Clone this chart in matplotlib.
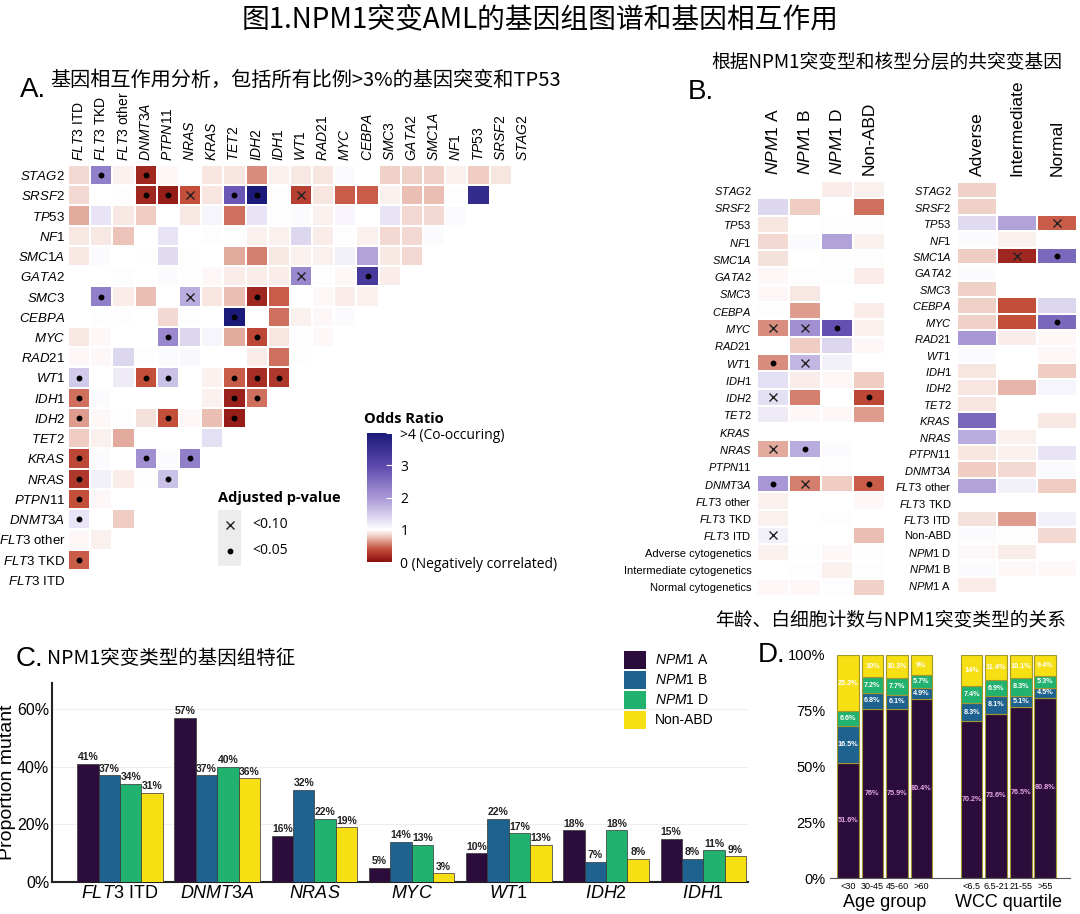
import numpy as np
import matplotlib
matplotlib.use('Agg')
import matplotlib.pyplot as plt
from matplotlib.colors import LinearSegmentedColormap, Normalize
from matplotlib.cm import ScalarMappable
from matplotlib.patches import Patch

plt.rcParams['font.family'] = ['Liberation Sans', 'DejaVu Sans']
plt.rcParams['mathtext.fontset'] = 'custom'
plt.rcParams['mathtext.it'] = 'Liberation Sans:italic'
plt.rcParams['mathtext.rm'] = 'Liberation Sans'
plt.rcParams['mathtext.bf'] = 'Liberation Sans:bold'
CJK = ['Noto Sans CJK SC', 'DejaVu Sans']
SANS = ['Open Sans', 'DejaVu Sans']

# ---------------- data ----------------
# panel A: genes bottom->top (rows) and left->right (columns)
genes_a = ['FLT3 ITD', 'FLT3 TKD', 'FLT3 other', 'DNMT3A', 'PTPN11', 'NRAS', 'KRAS',
           'TET2', 'IDH2', 'IDH1', 'WT1', 'RAD21', 'MYC', 'CEBPA', 'SMC3', 'GATA2',
           'SMC1A', 'NF1', 'TP53', 'SRSF2', 'STAG2']

# odds ratios, rows from top (STAG2) to bottom (FLT3 ITD)
odds_a = [
    [0.85, 2.3, 0.95, 0.15, 0.97, 1.0, 0.9, 0.9, 0.6, 0.95, 0.92, 0.9, 1.05, 1.0, 0.82, 0.82, 0.82, 0.95, 0.8, 0.9],
    [0.85, 1.0, 1.03, 0.15, 0.08, 0.4, 0.9, 2.8, 4.2, 1.03, 0.3, 0.9, 0.45, 0.45, 0.95, 0.75, 0.75, 1.03, 3.6],
    [0.7, 1.25, 0.92, 0.8, 1.0, 0.92, 1.1, 0.5, 1.25, 1.03, 1.05, 0.95, 1.08, 1.0, 1.25, 0.85, 0.85, 1.05],
    [0.92, 0.92, 0.78, 1.0, 1.25, 1.0, 1.03, 1.03, 0.95, 0.95, 1.4, 0.93, 1.02, 0.95, 0.85, 0.85, 1.05],
    [0.92, 1.05, 1.0, 1.03, 1.35, 1.03, 1.0, 0.7, 0.55, 0.92, 0.95, 0.95, 1.15, 1.9, 0.92, 0.85],
    [1.0, 1.0, 1.02, 1.0, 1.05, 1.02, 0.97, 0.93, 0.93, 0.93, 2.2, 1.02, 0.97, 3.3, 0.93],
    [1.0, 2.3, 0.93, 0.75, 1.0, 1.8, 0.9, 0.75, 0.15, 0.45, 1.0, 0.97, 0.93, 0.95],
    [1.0, 1.03, 1.02, 1.0, 0.85, 1.02, 1.0, 4.2, 1.0, 0.5, 0.95, 0.98, 1.05],
    [0.92, 0.97, 1.0, 1.0, 2.2, 1.4, 1.1, 0.7, 0.35, 0.9, 1.02, 0.98],
    [0.97, 0.97, 1.4, 1.02, 1.05, 1.07, 1.0, 1.0, 0.93, 0.5, 1.03],
    [1.5, 1.0, 1.2, 0.4, 1.6, 1.0, 0.95, 0.45, 0.2, 0.25],
    [0.5, 1.05, 1.0, 1.0, 1.0, 1.0, 0.95, 0.12, 0.5],
    [0.65, 0.97, 1.03, 0.88, 0.4, 0.97, 0.75, 0.08],
    [0.8, 0.95, 0.7, 1.0, 1.0, 1.0, 1.3],
    [0.35, 1.05, 1.0, 2.1, 1.05, 2.3],
    [0.25, 1.15, 0.93, 1.03, 1.6],
    [0.4, 0.97, 1.0, 1.0],
    [1.25, 1.0, 0.8],
    [0.97, 0.95],
    [0.45],
    [],
]

# adjusted p-value marks: (row gene, column gene, 'o' = <0.05, 'x' = <0.10)
sig_a = [('STAG2', 'FLT3 TKD', 'o'), ('STAG2', 'DNMT3A', 'o'),
         ('SRSF2', 'DNMT3A', 'o'), ('SRSF2', 'PTPN11', 'o'), ('SRSF2', 'NRAS', 'x'),
         ('SRSF2', 'TET2', 'o'), ('SRSF2', 'IDH2', 'o'), ('SRSF2', 'WT1', 'x'),
         ('GATA2', 'WT1', 'x'), ('GATA2', 'CEBPA', 'o'),
         ('SMC3', 'FLT3 TKD', 'o'), ('SMC3', 'NRAS', 'x'), ('SMC3', 'IDH2', 'o'),
         ('CEBPA', 'TET2', 'o'), ('MYC', 'PTPN11', 'o'), ('MYC', 'IDH2', 'o'),
         ('WT1', 'FLT3 ITD', 'o'), ('WT1', 'DNMT3A', 'o'), ('WT1', 'PTPN11', 'o'),
         ('WT1', 'TET2', 'o'), ('WT1', 'IDH2', 'o'), ('WT1', 'IDH1', 'o'),
         ('IDH1', 'FLT3 ITD', 'o'), ('IDH1', 'TET2', 'o'), ('IDH1', 'IDH2', 'o'),
         ('IDH2', 'FLT3 ITD', 'o'), ('IDH2', 'PTPN11', 'o'), ('IDH2', 'TET2', 'o'),
         ('KRAS', 'FLT3 ITD', 'o'), ('KRAS', 'DNMT3A', 'o'), ('KRAS', 'NRAS', 'o'),
         ('NRAS', 'FLT3 ITD', 'o'), ('NRAS', 'PTPN11', 'o'),
         ('PTPN11', 'FLT3 ITD', 'o'), ('DNMT3A', 'FLT3 ITD', 'o'), ('FLT3 TKD', 'FLT3 ITD', 'o')]

# panel B
rows_b1 = ['STAG2', 'SRSF2', 'TP53', 'NF1', 'SMC1A', 'GATA2', 'SMC3', 'CEBPA', 'MYC', 'RAD21',
           'WT1', 'IDH1', 'IDH2', 'TET2', 'KRAS', 'NRAS', 'PTPN11', 'DNMT3A', 'FLT3 other',
           'FLT3 TKD', 'FLT3 ITD', 'Adverse cytogenetics', 'Intermediate cytogenetics',
           'Normal cytogenetics']
cols_b1 = ['NPM1 A', 'NPM1 B', 'NPM1 D', 'Non-ABD']
odds_b1 = [
    [1.0, 1.0, 0.93, 0.95], [1.4, 0.8, 1.0, 0.5], [0.9, 1.0, 1.03, 1.03], [0.85, 1.05, 1.9, 0.95],
    [0.88, 1.0, 1.03, 1.02], [0.97, 1.02, 1.02, 0.93], [0.97, 0.92, 1.0, 1.0], [1.02, 0.65, 1.0, 0.93],
    [0.6, 2.1, 2.9, 0.95], [1.0, 0.8, 1.4, 0.97], [0.6, 1.7, 1.15, 1.0], [1.3, 0.93, 0.97, 0.8],
    [1.3, 0.55, 1.0, 0.35], [1.2, 0.97, 0.97, 0.65], [1.0, 1.0, 1.0, 1.0], [0.7, 1.8, 1.05, 1.0],
    [1.0, 1.0, 1.02, 1.0], [2.0, 0.55, 0.8, 0.45], [0.95, 1.0, 1.0, 0.98], [0.95, 1.0, 1.02, 1.0],
    [1.15, 1.0, 1.0, 0.75], [0.95, 1.03, 0.97, 1.03], [1.0, 1.03, 0.95, 1.02], [0.97, 0.97, 1.03, 0.82],
]
sig_b1 = [('MYC', 'NPM1 A', 'x'), ('MYC', 'NPM1 B', 'x'), ('MYC', 'NPM1 D', 'o'),
          ('WT1', 'NPM1 A', 'o'), ('WT1', 'NPM1 B', 'x'), ('IDH2', 'NPM1 A', 'x'),
          ('IDH2', 'Non-ABD', 'o'), ('NRAS', 'NPM1 A', 'x'), ('NRAS', 'NPM1 B', 'o'),
          ('DNMT3A', 'NPM1 A', 'o'), ('DNMT3A', 'NPM1 B', 'x'), ('DNMT3A', 'Non-ABD', 'o'),
          ('FLT3 ITD', 'NPM1 A', 'x')]

rows_b2 = ['STAG2', 'SRSF2', 'TP53', 'NF1', 'SMC1A', 'GATA2', 'SMC3', 'CEBPA', 'MYC', 'RAD21',
           'WT1', 'IDH1', 'IDH2', 'TET2', 'KRAS', 'NRAS', 'PTPN11', 'DNMT3A', 'FLT3 other',
           'FLT3 TKD', 'FLT3 ITD', 'Non-ABD', 'NPM1 D', 'NPM1 B', 'NPM1 A']
cols_b2 = ['Adverse', 'Intermediate', 'Normal']
odds_b2 = [
    [0.82, 1.0, 1.0], [0.82, 1.0, 1.0], [1.35, 1.9, 0.45], [1.05, 0.95, 1.0], [0.8, 0.15, 2.6],
    [1.05, 1.0, 1.0], [0.82, 1.0, 1.0], [0.82, 0.4, 1.4], [0.82, 0.4, 2.6], [2.0, 0.93, 0.97],
    [1.05, 1.0, 0.98], [0.9, 1.0, 0.8], [0.9, 0.72, 1.1], [0.9, 1.0, 1.0], [2.6, 1.0, 0.92],
    [1.8, 0.95, 1.0], [0.9, 0.95, 1.25], [0.8, 0.85, 1.05], [1.9, 1.15, 0.8], [1.0, 1.0, 1.0],
    [0.88, 0.65, 1.15], [1.05, 1.02, 0.85], [0.97, 0.93, 1.0], [1.05, 0.97, 0.97], [0.93, 1.0, 1.0],
]
sig_b2 = [('TP53', 'Normal', 'x'), ('SMC1A', 'Intermediate', 'x'),
          ('SMC1A', 'Normal', 'o'), ('MYC', 'Normal', 'o')]

# panel C
genes_c = ['FLT3 ITD', 'DNMT3A', 'NRAS', 'MYC', 'WT1', 'IDH2', 'IDH1']
types = ['NPM1 A', 'NPM1 B', 'NPM1 D', 'Non-ABD']
prop_a = [41, 57, 16, 5, 10, 18, 15]
prop_b = [37, 37, 32, 14, 22, 7, 8]
prop_d = [34, 40, 22, 13, 17, 18, 11]
prop_non = [31, 36, 19, 3, 13, 8, 9]
type_colors = ['#2b0c3a', '#1e6290', '#22b270', '#f6df12']

# panel D
groups_d = ['<30', '30-45', '45-60', '>60', '<6.5', '6.5-21', '21-55', '>55']
d_a = [51.6, 76.0, 75.9, 80.4, 70.2, 73.6, 76.5, 80.8]
d_b = [16.5, 6.8, 6.1, 4.9, 8.3, 8.1, 5.1, 4.5]
d_d = [6.6, 7.2, 7.7, 5.7, 7.4, 6.9, 8.3, 5.3]
d_non = [25.3, 10.0, 10.3, 9.0, 14.0, 11.4, 10.1, 9.4]

# ---------------- helpers ----------------
W, H = 1080, 914
plain = {'Non-ABD', 'Adverse cytogenetics', 'Intermediate cytogenetics', 'Normal cytogenetics',
         'Adverse', 'Intermediate', 'Normal'}


def box(x0, y0, x1, y1):
    return [x0 / W, 1 - y1 / H, (x1 - x0) / W, (y1 - y0) / H]


def lab(name):
    if name in plain:
        return name
    if name.startswith('FLT3 ') or name.startswith('NPM1 '):
        return r'$\mathit{' + name[:4] + '}$ ' + name[5:]
    return r'$\mathit{' + name + '}$'


cmap = LinearSegmentedColormap.from_list('or', [
    (0.0, '#8c1010'), (0.1, '#c4503c'), (0.2, '#efcdc3'), (0.25, '#ffffff'),
    (0.375, '#d3cbeb'), (0.5, '#a898d6'), (0.75, '#5c48ad'), (1.0, '#1b1a78')])
norm = Normalize(0, 4)


def marks(ax, sig, rows, cols):
    for r, c, m in sig:
        ri = rows.index(r)
        ci = cols.index(c)
        if m == 'o':
            ax.plot(ci + 0.5, ri + 0.5, 'o', color='black', ms=3.2)
        else:
            ax.plot(ci + 0.5, ri + 0.5, 'x', color='#222222', ms=5.5, mew=1.0)


fig = plt.figure(figsize=(W / 100, H / 100), dpi=100)

fig.text(0.5, 1 - 20 / H, '图1.NPM1突变AML的基因组图谱和基因相互作用', ha='center', va='center',
         fontsize=20, family=CJK)

# ---------------- panel A ----------------
n = len(genes_a)
M = np.full((n, n), np.nan)
for r, row in enumerate(odds_a):
    gi = n - 1 - r
    M[gi, :len(row)] = row
axA = fig.add_axes(box(68, 165, 534, 590))
axA.pcolormesh(np.arange(n + 1), np.arange(n + 1), np.ma.masked_invalid(M), cmap=cmap, norm=norm,
               edgecolors='white', linewidth=0.3)
marks(axA, sig_a, genes_a, genes_a)
axA.set_xlim(0, n)
axA.set_ylim(0, n)
axA.set_yticks(np.arange(n) + 0.5)
axA.set_yticklabels([lab(g) for g in genes_a], fontsize=9.5)
axA.xaxis.tick_top()
axA.set_xticks(np.arange(n) + 0.5)
axA.set_xticklabels([lab(g) for g in genes_a], fontsize=10, rotation=90)
axA.tick_params(axis='y', length=0, pad=2)
axA.tick_params(axis='x', length=0, pad=3)
for s in axA.spines.values():
    s.set_visible(False)

fig.text(20 / W, 1 - 90 / H, 'A.', fontsize=20, va='center')
fig.text(50 / W, 1 - 80 / H, '基因相互作用分析，包括所有比例>3%的基因突变和TP53', fontsize=14.5,
         va='center', family=CJK)

# colour bar
cax = fig.add_axes(box(367, 433, 392, 562))
cb = fig.colorbar(ScalarMappable(norm=norm, cmap=cmap), cax=cax)
cb.outline.set_visible(False)
cb.set_ticks([0, 1, 2, 3, 4])
cb.set_ticklabels(['0 (Negatively correlated)', '1', '2', '3', '>4 (Co-occuring)'])
cax.tick_params(length=4, color='white', direction='in', labelsize=10, pad=6)
for t in cax.get_yticklabels():
    t.set_family(SANS)
fig.text(364 / W, 1 - 419 / H, 'Odds Ratio', fontsize=10.5, fontweight='bold', family=SANS, va='center')

# p-value legend
pax = fig.add_axes(box(218, 510, 241, 566))
pax.set_facecolor('#ececec')
pax.set_xlim(0, 1)
pax.set_ylim(0, 2)
pax.plot(0.5, 1.45, 'x', color='#222222', ms=5.5, mew=1.0)
pax.plot(0.5, 0.55, 'o', color='black', ms=3.2)
pax.set_xticks([])
pax.set_yticks([])
for s in pax.spines.values():
    s.set_visible(False)
fig.text(218 / W, 1 - 498 / H, 'Adjusted p-value', fontsize=10.5, fontweight='bold', family=SANS, va='center')
fig.text(252 / W, 1 - 525 / H, '<0.10', fontsize=10, family=SANS, va='center')
fig.text(252 / W, 1 - 551 / H, '<0.05', fontsize=10, family=SANS, va='center')

# ---------------- panel B ----------------
fig.text(688 / W, 1 - 92 / H, 'B.', fontsize=20, va='center')
fig.text(711 / W, 1 - 62 / H, '根据NPM1突变型和核型分层的共突变基因', fontsize=13.5, va='center', family=CJK)


def heat_b(pos, vals, rows, cols, sig):
    ax = fig.add_axes(pos)
    ax.pcolormesh(np.array(vals), cmap=cmap, norm=norm, edgecolors='white', linewidth=0.3)
    marks(ax, sig, rows, cols)
    ax.set_xlim(0, len(cols))
    ax.set_ylim(len(rows), 0)
    ax.set_yticks(np.arange(len(rows)) + 0.5)
    ax.set_yticklabels([lab(r) for r in rows], fontsize=8)
    ax.xaxis.tick_top()
    ax.set_xticks(np.arange(len(cols)) + 0.5)
    ax.set_xticklabels([lab(c) for c in cols], fontsize=12.5, rotation=90)
    ax.tick_params(length=0, pad=4)
    for s in ax.spines.values():
        s.set_visible(False)
    return ax


heat_b(box(757, 181, 885, 596), odds_b1, rows_b1, cols_b1, sig_b1)
heat_b(box(957, 182, 1077, 593), odds_b2, rows_b2, cols_b2, sig_b2)

# ---------------- panel C ----------------
fig.text(16 / W, 1 - 659 / H, 'C.', fontsize=20, va='center')
fig.text(47 / W, 1 - 658 / H, 'NPM1突变类型的基因组特征', fontsize=14, va='center', family=CJK)
fig.text(715 / W, 1 - 620 / H, '年龄、白细胞计数与NPM1突变类型的关系', fontsize=13.5, va='center', family=CJK)

axC = fig.add_axes(box(52, 683, 748, 882))
x = np.arange(len(genes_c))
bw = 0.22
for k, (vals, col) in enumerate(zip([prop_a, prop_b, prop_d, prop_non], type_colors)):
    xs = x + (k - 1.5) * bw
    axC.bar(xs, np.array(vals) / 100, width=bw, color=col, edgecolor='#333333', linewidth=0.5, zorder=3)
    for xi, v in zip(xs, vals):
        axC.text(xi, v / 100 + 0.005, f'{v}%', ha='center', va='bottom', fontsize=7.5,
                 fontweight='bold', color='#222222')
axC.set_xlim(-0.70, 6.46)
axC.set_ylim(0, 0.69)
axC.set_yticks([0, 0.2, 0.4, 0.6])
axC.set_yticklabels(['0%', '20%', '40%', '60%'], fontsize=11.5)
axC.set_xticks(x)
axC.set_xticklabels([lab(g) for g in genes_c], fontsize=13)
axC.yaxis.grid(True, color='#eeeeee', lw=0.8, zorder=0)
axC.tick_params(length=0, pad=2)
for s in ['top', 'right']:
    axC.spines[s].set_visible(False)
for s in ['left', 'bottom']:
    axC.spines[s].set_linewidth(1.5)
    axC.spines[s].set_color('#222222')
axC.set_ylabel('Proportion mutant', fontsize=14)
axC.yaxis.set_label_coords(-0.052, 0.5)
handles = [Patch(facecolor=c, edgecolor='none') for c in type_colors]
fig.legend(handles, [lab(t) for t in types], loc='upper left', bbox_to_anchor=(624 / W, 1 - 651 / H),
           frameon=False, fontsize=10, handlelength=1.6, handleheight=1.6, labelspacing=0.15,
           handletextpad=0.6, borderpad=0, borderaxespad=0)

# ---------------- panel D ----------------
fig.text(758 / W, 1 - 655 / H, 'D.', fontsize=20, va='center')
axD = fig.add_axes(box(830, 655, 1070, 878))
xd = np.array([0, 1, 2, 3, 5.05, 6.05, 7.05, 8.05])
bottom = np.zeros(len(groups_d))
for vals, col, tc in zip([d_a, d_b, d_d, d_non], type_colors, ['#e6a6e6', 'white', 'white', 'white']):
    v = np.array(vals) / 100
    axD.bar(xd, v, bottom=bottom, width=0.88, color=col, edgecolor='#a3962c', linewidth=0.8)
    for xi, b, vi, raw in zip(xd, bottom, v, vals):
        axD.text(xi, b + vi / 2, f'{raw:g}%', ha='center', va='center', fontsize=5.2, color=tc,
                 fontweight='bold')
    bottom += v
axD.set_xlim(-0.73, 9.06)
axD.set_ylim(0, 1)
axD.set_yticks([0, 0.25, 0.5, 0.75, 1])
axD.set_yticklabels(['0%', '25%', '50%', '75%', '100%'], fontsize=10.5)
axD.set_xticks(xd)
axD.set_xticklabels(groups_d, fontsize=6.5)
axD.tick_params(length=0, pad=3)
for s in ['top', 'right', 'left']:
    axD.spines[s].set_visible(False)
axD.spines['bottom'].set_color('#555555')
axD.text(1.5, -0.07, 'Age group', transform=axD.get_xaxis_transform(), ha='center', va='top', fontsize=13)
axD.text(6.55, -0.07, 'WCC quartile', transform=axD.get_xaxis_transform(), ha='center', va='top', fontsize=13)

fig.savefig('out.png', dpi=100)
